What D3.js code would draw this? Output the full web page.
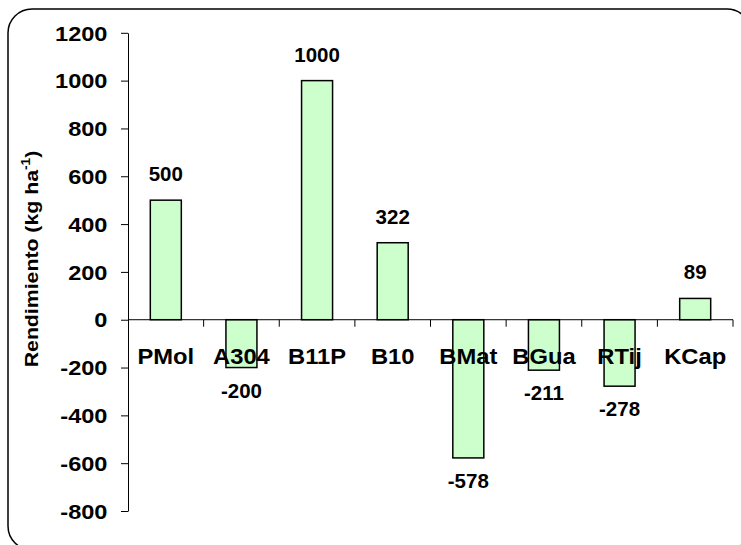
<!DOCTYPE html>
<html>
<head>
<meta charset="utf-8">
<script src="https://cdn.jsdelivr.net/npm/d3@7"></script>
<style>
  html, body { margin: 0; padding: 0; background: #fff; }
  svg { display: block; }
  text { font-family: Arial, "Liberation Sans", sans-serif; font-weight: bold; fill: #000; }
</style>
</head>
<body>
<svg id="chart" width="741" height="545"></svg>
<script>
// Yield difference per cultivar (kg/ha)
const categories = ["PMol", "A304", "B11P", "B10", "BMat", "BGua", "RTij", "KCap"];
const values = [500, -200, 1000, 322, -578, -211, -278, 89];
const yTicks = [-800, -600, -400, -200, 0, 200, 400, 600, 800, 1000, 1200];

const svg = d3.select("#chart");

// rounded outer frame
svg.append("rect")
  .attr("x", 8).attr("y", 9)
  .attr("width", 743).attr("height", 541)
  .attr("rx", 24).attr("ry", 24)
  .attr("fill", "#fff")
  .attr("stroke", "#000")
  .attr("stroke-width", 1.5);

const x = d3.scaleBand().domain(categories).range([128, 733]).padding(0);
const y = d3.scaleLinear().domain([-800, 1200]).range([511, 32.8]);
const barW = x.bandwidth() * 0.41;

// y axis
const yAxis = svg.append("g")
  .attr("transform", "translate(128,0)")
  .call(d3.axisLeft(y).tickValues(yTicks).tickSize(7).tickSizeOuter(0).tickFormat(d => String(d)));
yAxis.select(".domain").attr("stroke", "#000").attr("stroke-width", 1);
yAxis.selectAll(".tick line").attr("stroke", "#000");
yAxis.selectAll(".tick text")
  .attr("font-size", 20)
  .attr("font-family", "Arial, 'Liberation Sans', sans-serif")
  .attr("font-weight", "bold")
  .attr("fill", "#000")
  .attr("x", -20.5 / 1.18)
  .attr("dy", "0.36em")
  .attr("transform", "scale(1.18,1)");

// bars
svg.append("g").selectAll("rect")
  .data(values)
  .join("rect")
  .attr("x", (d, i) => x(categories[i]) + (x.bandwidth() - barW) / 2)
  .attr("y", d => y(Math.max(0, d)))
  .attr("width", barW)
  .attr("height", d => Math.abs(y(d) - y(0)))
  .attr("fill", "#CCFFCC")
  .attr("stroke", "#000")
  .attr("stroke-width", 1.5);

// x axis line with boundary ticks
const y0 = y(0);
svg.append("line")
  .attr("x1", 128).attr("x2", 733)
  .attr("y1", y0).attr("y2", y0)
  .attr("stroke", "#000").attr("stroke-width", 1);
svg.append("g").selectAll("line")
  .data(categories.map((c, i) => i + 1))
  .join("line")
  .attr("x1", i => 128 + i * x.step())
  .attr("x2", i => 128 + i * x.step())
  .attr("y1", y0).attr("y2", y0 + 7)
  .attr("stroke", "#000").attr("stroke-width", 1);

// category labels
svg.append("g").selectAll("text")
  .data(categories)
  .join("text")
  .attr("transform", d => `translate(${x(d) + x.bandwidth() / 2},364) scale(1.08,1)`)
  .attr("text-anchor", "middle")
  .attr("font-size", 22)
  .text(d => d);

// value labels
svg.append("g").selectAll("text")
  .data(values)
  .join("text")
  .attr("x", (d, i) => x(categories[i]) + x.bandwidth() / 2)
  .attr("y", d => d >= 0 ? y(d) - 19 : y(d) + 30)
  .attr("text-anchor", "middle")
  .attr("font-size", 20.5)
  .text(d => String(d));

// y axis title
const title = svg.append("text")
  .attr("transform", "translate(38,259) rotate(-90) scale(1.15,1)")
  .attr("text-anchor", "middle")
  .attr("font-size", 18.5);
title.append("tspan").text("Rendimiento (kg ha");
title.append("tspan").attr("font-size", 12).attr("dy", -8).text("-1");
title.append("tspan").attr("dy", 8).text(")");
</script>
</body>
</html>
